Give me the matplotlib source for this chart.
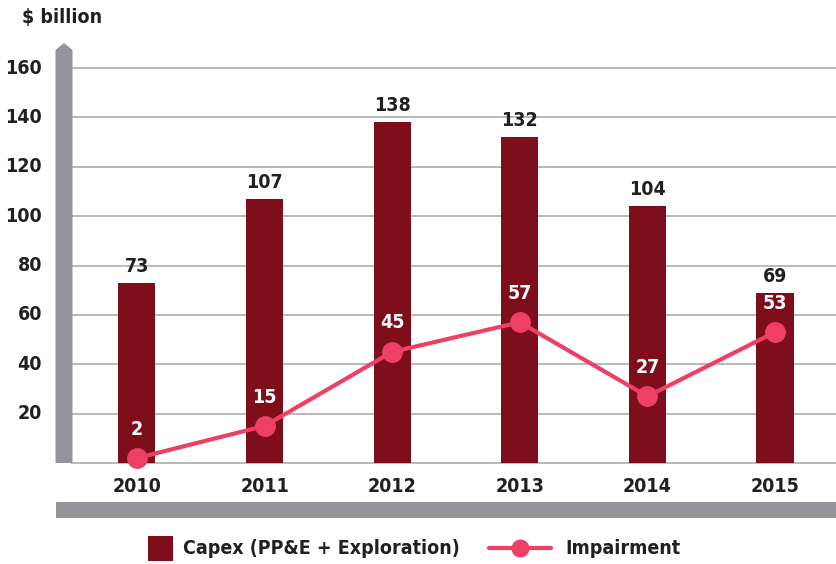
import matplotlib
matplotlib.use("Agg")
import matplotlib.pyplot as plt
from matplotlib.patches import Polygon, Rectangle
from matplotlib.lines import Line2D

# capex vs impairment, $ billion
years = ["2010", "2011", "2012", "2013", "2014", "2015"]
capex = [73, 107, 138, 132, 104, 69]
impairment = [2, 15, 45, 57, 27, 53]
yticks = [20, 40, 60, 80, 100, 120, 140, 160]

bar_col = "#7E0F1A"
line_col = "#EE4064"
grey = "#939598"
txt_col = "#231F20"

plt.rcParams['font.family'] = ['DejaVu Sans']
plt.rcParams['font.stretch'] = 'condensed'
plt.rcParams['font.weight'] = 'bold'

W, H = 836, 564
fig = plt.figure(figsize=(W / 100, H / 100), dpi=100)

def fx(px):
    return px / W

def fy(py):
    return 1 - py / H

ax = fig.add_axes([fx(72), fy(463), fx(836 - 72), (463 - 68) / H])
ax.set_xlim(-0.509, 5.478)
ax.set_ylim(0, 160)
for s in ax.spines.values():
    s.set_visible(False)
ax.set_xticks([])
ax.set_yticks([])

# grid lines
for v in [0] + yticks:
    ax.axhline(v, color="#B3B3B3", lw=1.3, zorder=0, clip_on=False)

x = list(range(len(years)))
ax.bar(x, capex, width=0.29, color=bar_col, zorder=2)
ax.plot(x, impairment, color=line_col, lw=3, marker="o", markersize=14,
        zorder=3, clip_on=False)

for i in x:
    ax.annotate(str(capex[i]), (i, capex[i]), xytext=(0, 5), textcoords="offset points",
                ha="center", va="bottom", fontsize=14, color=txt_col, fontweight="bold")
    ax.annotate(str(impairment[i]), (i, impairment[i]), xytext=(0, 14), textcoords="offset points",
                ha="center", va="bottom", fontsize=14, color="white", fontweight="bold", zorder=4)
    ax.annotate(years[i], (i, 0), xytext=(0, -10), textcoords="offset points",
                ha="center", va="top", fontsize=14, color=txt_col, fontweight="bold",
                annotation_clip=False)

for v in yticks:
    ax.annotate(str(v), (fx(42), v), xycoords=("figure fraction", "data"),
                ha="right", va="center", fontsize=14,
                color=txt_col, fontweight="bold", annotation_clip=False)

# grey axis bar with arrow tip
fig.add_artist(Polygon([[fx(55.5), fy(463)], [fx(55.5), fy(50)], [fx(64), fy(43)],
                        [fx(72.5), fy(50)], [fx(72.5), fy(463)]],
                       closed=True, transform=fig.transFigure, color=grey, lw=0))
# grey bottom band
fig.add_artist(Rectangle((fx(55.5), fy(518)), fx(836 - 55.5), (518 - 502) / H,
                         transform=fig.transFigure, color=grey, lw=0))

fig.text(fx(22), fy(18), "$ billion", ha="left", va="center", fontsize=14,
         color=txt_col, fontweight="bold")

# legend, laid out by measured text widths so it stays centred like the original
renderer = fig.canvas.get_renderer()
t1 = fig.text(0, fy(548), "Capex (PP&E + Exploration)", ha="left", va="center",
              fontsize=14, color=txt_col, fontweight="bold")
t2 = fig.text(0, fy(548), "Impairment", ha="left", va="center",
              fontsize=14, color=txt_col, fontweight="bold")
w1 = t1.get_window_extent(renderer).width
w2 = t2.get_window_extent(renderer).width
total = 25 + 10 + w1 + 29 + 64 + 13 + w2
x0 = (145 + 683) / 2 - total / 2
fig.add_artist(Rectangle((fx(x0), fy(561)), fx(25), 25 / H,
                         transform=fig.transFigure, color=bar_col, lw=0))
t1.set_x(fx(x0 + 35))
lx = x0 + 35 + w1 + 29
fig.add_artist(Line2D([fx(lx + 1), fx(lx + 63)], [fy(548), fy(548)], transform=fig.transFigure,
                      color=line_col, lw=3, solid_capstyle="round"))
fig.add_artist(Line2D([fx(lx + 32)], [fy(548)], transform=fig.transFigure, color=line_col,
                      marker="o", markersize=12, lw=0))
t2.set_x(fx(lx + 64 + 13))

fig.savefig("out.png", dpi=100)
